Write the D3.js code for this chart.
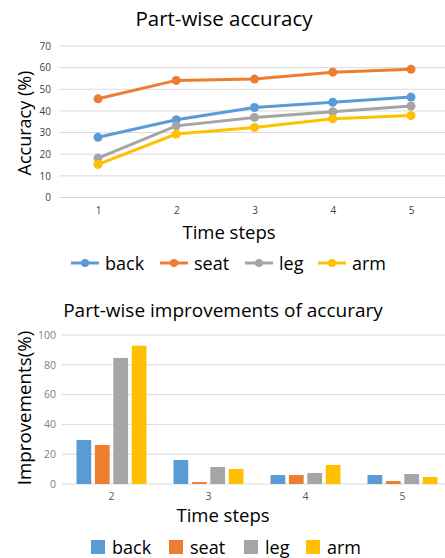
<!DOCTYPE html>
<html>
<head>
<meta charset="utf-8">
<script src="https://cdn.jsdelivr.net/npm/d3@7"></script>
<style>
body{margin:0;background:#fff}
svg text{font-family:"Open Sans",sans-serif}
</style>
</head>
<body>
<svg id="chart"></svg>
<script>
// data
var parts = ["back","seat","leg","arm"]
var colors = ["#5B9BD5","#ED7D31","#A5A5A5","#FFC000"]

var accSteps = ["1","2","3","4","5"]
var accBack = [27.8,35.9,41.6,44.0,46.4]
var accSeat = [45.6,54.1,54.7,57.9,59.2]
var accLeg  = [18.2,33.1,37.0,39.6,42.3]
var accArm  = [15.3,29.3,32.3,36.4,37.9]
var accTicks = [0,10,20,30,40,50,60,70]

var impSteps = ["2","3","4","5"]
var impBack = [29.5,16.1,6.0,6.0]
var impSeat = [26.2,1.3,6.0,2.0]
var impLeg  = [84.6,11.4,7.4,6.7]
var impArm  = [92.8,10.1,12.8,4.7]
var impTicks = [0,20,40,60,80,100]

var svg = d3.select("#chart")
  .attr("width",445)
  .attr("height",558)

// ---------- top: line chart ----------
var drawLines = function()
{
  var series = [accBack,accSeat,accLeg,accArm]
  var xScale = d3.scalePoint()
    .domain(accSteps)
    .range([98,411])
  var yScale = d3.scaleLinear()
    .domain([0,70])
    .range([197.5,46])

  svg.append("text")
    .text("Part-wise accuracy")
    .attr("x",224).attr("y",26)
    .attr("text-anchor","middle")
    .attr("font-size",20.5)
    .attr("fill","#000")

  // grid
  svg.append("g")
    .selectAll("line")
    .data(accTicks)
    .enter().append("line")
    .attr("x1",59).attr("x2",445)
    .attr("y1",function(d){return yScale(d)})
    .attr("y2",function(d){return yScale(d)})
    .attr("stroke","#d9d9d9")

  var yAxis = d3.axisLeft(yScale).tickValues(accTicks).tickSize(0).tickPadding(0)
  var yg = svg.append("g")
    .attr("transform","translate(51,0)")
    .call(yAxis)
  yg.select(".domain").remove()
  yg.selectAll("text").attr("font-size",10).attr("fill","#404040").attr("font-family","Open Sans")

  var xAxis = d3.axisBottom(xScale).tickSize(0).tickPadding(0)
  var xg = svg.append("g")
    .attr("transform","translate(0,207)")
    .call(xAxis)
  xg.select(".domain").remove()
  xg.selectAll("text").attr("font-size",10).attr("fill","#404040").attr("font-family","Open Sans")

  svg.append("text")
    .text("Time steps")
    .attr("x",229).attr("y",239)
    .attr("text-anchor","middle")
    .attr("font-size",18.5)

  svg.append("text")
    .text("Accuracy (%)")
    .attr("transform","translate(31,123) rotate(-90)")
    .attr("text-anchor","middle")
    .attr("font-size",18)

  var line = d3.line()
    .x(function(d,i){return xScale(accSteps[i])})
    .y(function(d){return yScale(d)})

  series.forEach(function(s,k){
    svg.append("path")
      .attr("d",line(s))
      .attr("fill","none")
      .attr("stroke",colors[k])
      .attr("stroke-width",3)
    svg.append("g")
      .selectAll("circle")
      .data(s)
      .enter().append("circle")
      .attr("cx",function(d,i){return xScale(accSteps[i])})
      .attr("cy",function(d){return yScale(d)})
      .attr("r",4.5)
      .attr("fill",colors[k])
  })

  // legend
  var legX = [71,160,245,318]
  parts.forEach(function(p,k){
    var g = svg.append("g").attr("transform","translate("+legX[k]+",263)")
    g.append("line").attr("x1",0).attr("x2",28).attr("stroke",colors[k]).attr("stroke-width",3)
    g.append("circle").attr("cx",14).attr("r",4).attr("fill",colors[k])
    g.append("text").text(p).attr("x",34).attr("y",7).attr("font-size",18)
  })
}

// ---------- bottom: grouped bars ----------
var drawBars = function()
{
  var series = [impBack,impSeat,impLeg,impArm]
  var xScale = d3.scaleBand()
    .domain(impSteps)
    .range([63,451])
  var inner = d3.scaleBand()
    .domain(parts)
    .range([0,70])
    .paddingInner(0.2)
  var yScale = d3.scaleLinear()
    .domain([0,100])
    .range([484,335])

  svg.append("text")
    .text("Part-wise improvements of accurary")
    .attr("x",223).attr("y",317)
    .attr("text-anchor","middle")
    .attr("font-size",19)

  svg.append("g")
    .selectAll("line")
    .data(impTicks)
    .enter().append("line")
    .attr("x1",62).attr("x2",445)
    .attr("y1",function(d){return yScale(d)})
    .attr("y2",function(d){return yScale(d)})
    .attr("stroke","#d9d9d9")

  var yAxis = d3.axisLeft(yScale).tickValues(impTicks).tickSize(0).tickPadding(0)
  var yg = svg.append("g")
    .attr("transform","translate(56,0)")
    .call(yAxis)
  yg.select(".domain").remove()
  yg.selectAll("text").attr("font-size",10.5).attr("fill","#7f7f7f").attr("font-family","Open Sans")

  var xAxis = d3.axisBottom(xScale).tickSize(0).tickPadding(0)
  var xg = svg.append("g")
    .attr("transform","translate(0,493)")
    .call(xAxis)
  xg.select(".domain").remove()
  xg.selectAll("text").attr("font-size",10.5).attr("fill","#595959").attr("font-family","Open Sans")

  svg.append("text")
    .text("Time steps")
    .attr("x",223).attr("y",522)
    .attr("text-anchor","middle")
    .attr("font-size",18.5)

  svg.append("text")
    .text("Improvements(%)")
    .attr("transform","translate(31,408) rotate(-90)")
    .attr("text-anchor","middle")
    .attr("font-size",18.8)

  series.forEach(function(s,k){
    svg.append("g")
      .selectAll("rect")
      .data(s)
      .enter().append("rect")
      .attr("x",function(d,i){return xScale(impSteps[i]) + xScale.bandwidth()/2 - 35 + inner(parts[k])})
      .attr("y",function(d){return yScale(d)})
      .attr("width",inner.bandwidth())
      .attr("height",function(d){return yScale(0)-yScale(d)})
      .attr("fill",colors[k])
  })

  var legX = [91,169,244,306]
  parts.forEach(function(p,k){
    var g = svg.append("g").attr("transform","translate("+legX[k]+",547)")
    g.append("rect").attr("x",0).attr("y",-7).attr("width",14).attr("height",14).attr("fill",colors[k])
    g.append("text").text(p).attr("x",21).attr("y",7).attr("font-size",18)
  })
}

drawLines()
drawBars()
</script>
</body>
</html>
